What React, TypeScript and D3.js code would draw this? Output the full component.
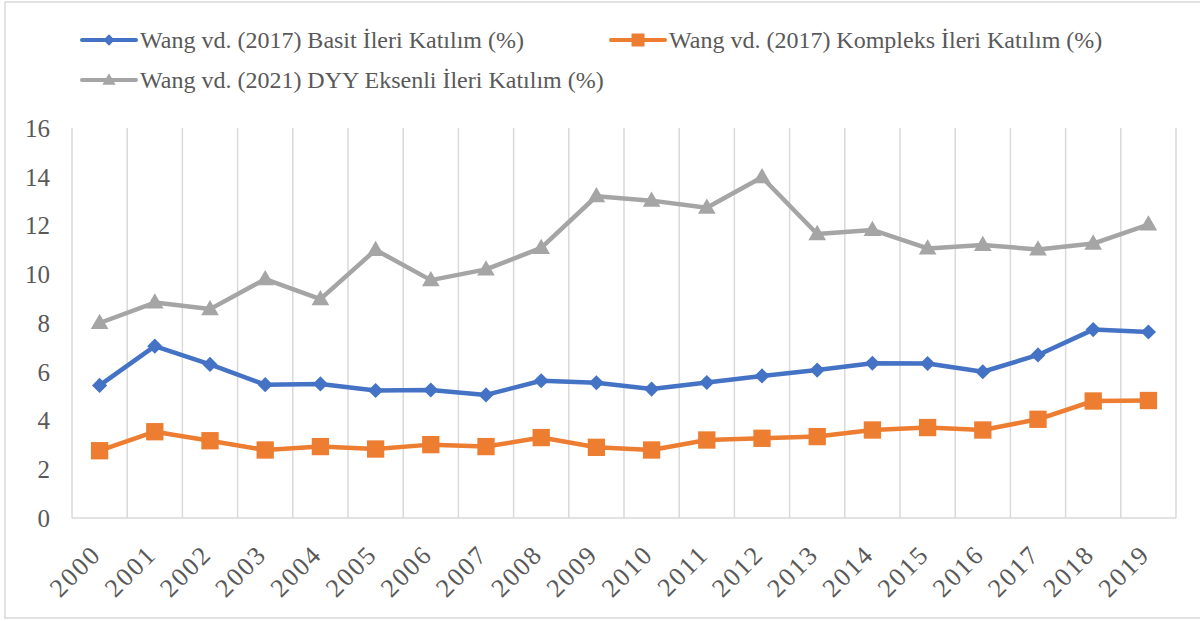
import React from 'react';
import * as d3 from 'd3';

const years = ['2000','2001','2002','2003','2004','2005','2006','2007','2008','2009','2010','2011','2012','2013','2014','2015','2016','2017','2018','2019'];
const basit = [5.44, 7.05, 6.3, 5.47, 5.5, 5.23, 5.25, 5.05, 5.63, 5.55, 5.29, 5.56, 5.83, 6.07, 6.35, 6.34, 6.0, 6.69, 7.73, 7.63];
const kompleks = [2.76, 3.54, 3.17, 2.79, 2.93, 2.83, 3.01, 2.93, 3.3, 2.9, 2.79, 3.2, 3.27, 3.34, 3.61, 3.71, 3.61, 4.05, 4.8, 4.82];
const dyy = [8.0, 8.84, 8.57, 9.8, 8.98, 11.0, 9.76, 10.2, 11.08, 13.2, 13.02, 12.73, 13.98, 11.65, 11.82, 11.06, 11.2, 11.02, 11.26, 12.04];
const yTicks = [0, 2, 4, 6, 8, 10, 12, 14, 16];
const seriesNames = [
  'Wang vd. (2017) Basit İleri Katılım (%)',
  'Wang vd. (2017) Kompleks İleri Katılım (%)',
  'Wang vd. (2021) DYY Eksenli İleri Katılım (%)',
];

const FONT = '"Liberation Serif", "Times New Roman", serif';
const TXT = '#595959';
const GRID = '#D9D9D9';

type Series = { name: string; values: number[]; color: string; shape: 'diamond' | 'square' | 'triangle' };
const series: Series[] = [
  { name: seriesNames[0], values: basit, color: '#4472C4', shape: 'diamond' },
  { name: seriesNames[1], values: kompleks, color: '#ED7D31', shape: 'square' },
  { name: seriesNames[2], values: dyy, color: '#A5A5A5', shape: 'triangle' },
];

function markerPath(shape: string, scale = 1): string {
  if (shape === 'diamond') return d3.symbol(d3.symbolSquare, 115 * scale * scale)() as string;
  if (shape === 'square') return d3.symbol(d3.symbolSquare, 300 * scale * scale)() as string;
  return d3.symbol(d3.symbolTriangle, 135 * scale * scale)() as string;
}

export default function App() {
  const W = 1200, H = 621;
  const x = d3.scaleBand<string>().domain(years).range([72, 1176]);
  const y = d3.scaleLinear().domain([0, 16]).range([518, 128]);
  const cx = (d: string) => (x(d) as number) + x.bandwidth() / 2;
  const line = d3.line<number>().x((_, i) => cx(years[i])).y((v) => y(v));
  const bounds = x.domain().map((d) => x(d) as number).concat([x.range()[1]]);

  const legendItems = [
    { s: series[0], lx: 82, ly: 40 },
    { s: series[1], lx: 611, ly: 40 },
    { s: series[2], lx: 82, ly: 80 },
  ];

  return (
    <div style={{ position: 'absolute', left: 0, top: 0 }}>
      <svg width={W} height={H} style={{ display: 'block', background: '#fff' }}>
        <rect x={5} y={2} width={1300} height={616} fill="#fff" stroke={GRID} strokeWidth={1.5} />
        {bounds.map((b, i) => (
          <line key={i} x1={b} x2={b} y1={y(16)} y2={y(0)} stroke={GRID} strokeWidth={1.5} />
        ))}
        <line x1={72} x2={1176} y1={y(0)} y2={y(0)} stroke={GRID} strokeWidth={1.5} />
        {yTicks.map((t) => (
          <text key={t} x={50} y={y(t)} dy="0.35em" textAnchor="end" fontFamily={FONT} fontSize={25} fill={TXT}>{t}</text>
        ))}
        {years.map((yr) => (
          <text key={yr} transform={`translate(${cx(yr) + 3},${556}) rotate(-45)`} textAnchor="end" fontFamily={FONT} fontSize={26} letterSpacing={2} fill={TXT}>{yr}</text>
        ))}
        {series.map((s) => (
          <path key={s.name} d={line(s.values) as string} fill="none" stroke={s.color} strokeWidth={4.5} strokeLinejoin="round" strokeLinecap="round" />
        ))}
        {series.map((s) => (
          <g key={s.name + 'm'}>
            {s.values.map((v, i) => (
              <path key={i} d={markerPath(s.shape)} fill={s.color}
                transform={`translate(${cx(years[i])},${y(v) + (s.shape === 'triangle' ? 1 : 0)})${s.shape === 'diamond' ? ' rotate(45)' : ''}`} />
            ))}
          </g>
        ))}
        {legendItems.map(({ s, lx, ly }) => (
          <g key={s.name + 'l'}>
            <line x1={lx} x2={lx + 54} y1={ly} y2={ly} stroke={s.color} strokeWidth={4} strokeLinecap="round" />
            <path d={markerPath(s.shape, 0.75)} fill={s.color}
              transform={`translate(${lx + 27},${ly + (s.shape === 'triangle' ? 1 : 0)})${s.shape === 'diamond' ? ' rotate(45)' : ''}`} />
            <text x={lx + 58} y={ly} dy="0.35em" fontFamily={FONT} fontSize={24} fill={TXT}>{s.name}</text>
          </g>
        ))}
      </svg>
    </div>
  );
}
